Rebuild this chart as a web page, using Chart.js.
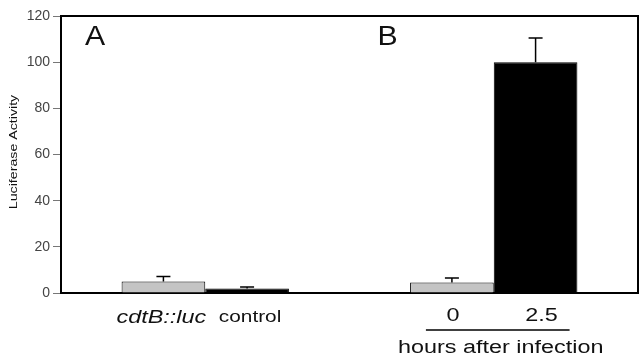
<!DOCTYPE html>
<html>
<head>
<meta charset="utf-8">
<script src="https://cdn.jsdelivr.net/npm/chart.js@4.4.1/dist/chart.umd.min.js"></script>
<style>
  html, body { margin: 0; padding: 0; background: #fff; }
  #wrap { width: 639px; height: 362px; position: relative; }
</style>
</head>
<body>
<div id="wrap"><canvas id="chart"></canvas></div>
<script>
// Panels and values
const panels = ['A', 'B'];
const grayValues = [5, 4.6];
const grayErrors = [2.1, 1.9];
const blackValues = [2, 100];
const blackErrors = [0.6, 10.5];
const barLabels = [['cdtB::luc', 'control'], ['0', '2.5']];
const yTicks = [0, 20, 40, 60, 80, 100, 120];

const FONT = '"Liberation Sans", Arial, sans-serif';

// text in the figure is a bit wide, so stretch it horizontally
function wideText(ctx, text, x, y, font, sx) {
    ctx.save();
    ctx.translate(x, y);
    ctx.scale(sx, 1);
    ctx.font = font;
    ctx.fillText(text, 0, 0);
    ctx.restore();
}

// Error bars, panel letters, labels under the bars and the frame
const extras = {
    id: 'extras',
    afterDatasetsDraw(chart) {
        const ctx = chart.ctx;
        const area = chart.chartArea;
        const yScale = chart.scales.y;
        const xScale = chart.scales.x;
        const errs = [grayErrors, blackErrors];
        const vals = [grayValues, blackValues];

        ctx.save();
        ctx.strokeStyle = '#000';
        ctx.lineWidth = 1.5;
        for (let d = 0; d < 2; d++) {
            chart.getDatasetMeta(d).data.forEach((bar, i) => {
                const top = yScale.getPixelForValue(vals[d][i] + errs[d][i]);
                ctx.beginPath();
                ctx.moveTo(bar.x, bar.y);
                ctx.lineTo(bar.x, top);
                ctx.moveTo(bar.x - 7, top);
                ctx.lineTo(bar.x + 7, top);
                ctx.stroke();
            });
        }

        // frame top and right
        ctx.lineWidth = 2;
        ctx.beginPath();
        ctx.moveTo(area.left, area.top);
        ctx.lineTo(area.right, area.top);
        ctx.lineTo(area.right, area.bottom);
        ctx.stroke();

        // panel letters
        ctx.fillStyle = '#111';
        ctx.textBaseline = 'alphabetic';
        ctx.textAlign = 'left';
        const mid = (xScale.getPixelForValue(0) + xScale.getPixelForValue(1)) / 2;
        wideText(ctx, panels[0], area.left + 24, 45, '27px ' + FONT, 1.12);
        wideText(ctx, panels[1], mid + 28, 45, '27px ' + FONT, 1.12);

        // y axis title
        ctx.save();
        ctx.translate(17, 152);
        ctx.rotate(-Math.PI / 2);
        ctx.textAlign = 'center';
        wideText(ctx, 'Luciferase Activity', 0, 0, '10px ' + FONT, 1.42);
        ctx.restore();

        // labels under bars
        const g = chart.getDatasetMeta(0).data;
        const b = chart.getDatasetMeta(1).data;
        ctx.textAlign = 'center';
        ctx.textBaseline = 'middle';
        wideText(ctx, barLabels[0][0], g[0].x - 2, 318, 'italic 18px ' + FONT, 1.3);
        wideText(ctx, barLabels[0][1], b[0].x + 3, 318, '16px ' + FONT, 1.3);
        wideText(ctx, barLabels[1][0], g[1].x + 1, 316, '18px ' + FONT, 1.3);
        wideText(ctx, barLabels[1][1], b[1].x + 6, 316, '18px ' + FONT, 1.3);

        ctx.lineWidth = 1.5;
        ctx.beginPath();
        ctx.moveTo(g[1].x - 26, 330);
        ctx.lineTo(b[1].x + 34, 330);
        ctx.stroke();
        wideText(ctx, 'hours after infection', (g[1].x + b[1].x) / 2 + 7, 348, '18px ' + FONT, 1.3);
        ctx.restore();
    }
};

new Chart(document.getElementById('chart'), {
    type: 'bar',
    data: {
        labels: panels,
        datasets: [
            {
                data: grayValues,
                backgroundColor: '#c4c4c4',
                borderColor: '#000',
                borderWidth: 1
            },
            {
                data: blackValues,
                backgroundColor: '#000',
                borderColor: '#000',
                borderWidth: 1
            }
        ]
    },
    options: {
        responsive: true,
        maintainAspectRatio: false,
        animation: false,
        layout: { padding: { top: 16, right: 1, bottom: 69, left: 0 } },
        plugins: {
            legend: { display: false },
            tooltip: { enabled: false }
        },
        datasets: {
            bar: { categoryPercentage: 0.58, barPercentage: 1 }
        },
        scales: {
            x: {
                ticks: { display: false },
                grid: { display: false },
                border: { display: true, color: '#000', width: 2 },
                afterFit(scale) { scale.height = 0; }
            },
            y: {
                min: 0,
                max: 120,
                afterBuildTicks(scale) { scale.ticks = yTicks.map(v => ({ value: v })); },
                ticks: {
                    color: '#444',
                    font: { family: FONT, size: 14 },
                    padding: 3
                },
                grid: {
                    display: true,
                    drawOnChartArea: false,
                    drawTicks: true,
                    tickLength: 8,
                    color: '#777'
                },
                border: { display: true, color: '#000', width: 2 },
                afterFit(scale) { scale.width = 61; }
            }
        }
    },
    plugins: [extras]
});
</script>
</body>
</html>
